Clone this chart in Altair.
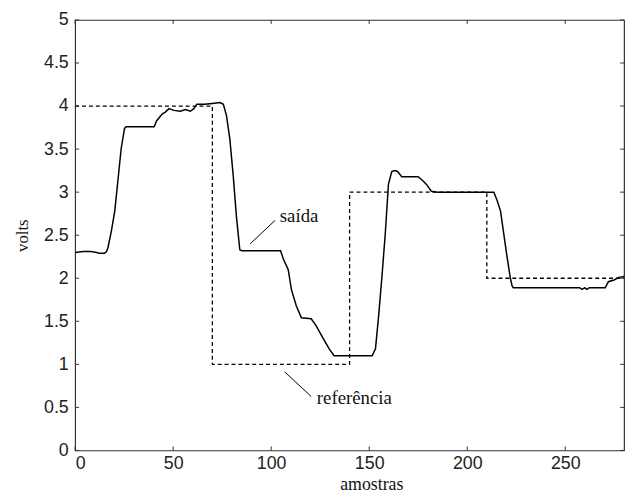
import altair as alt
import pandas as pd

# reference (step) signal
ref_x = [0, 70, 140, 210, 280]
ref_y = [4, 1, 3, 2, 2]

# system output
out_x = [0, 4, 8, 11, 12, 15, 16, 16.8, 18.5, 20.2, 21.8, 23.5, 25.2, 26,
         40.3, 41.6, 44.5, 46, 47.9, 50.4, 53.7, 56.3, 58.8, 60.5, 62.1,
         66, 70, 73.9, 75.6, 77.2, 78.9, 80.6, 82.3, 84, 85,
         104.8, 106.1, 108.7, 110.3, 112.8, 115.4, 120.4, 122.9, 126.3, 129.6, 132.1, 134.7,
         151.5, 153.2, 154.8, 156.5, 158.2, 159.8, 161.5, 163, 164.5, 166.6,
         175, 177.5, 179.2, 181.7, 185,
         213.6, 215.3, 217, 218.6, 220.3, 222, 222.9, 223.5,
         257.3, 258.6, 260, 261, 262.3, 270.4, 272, 274.9, 277.4, 280]
out_y = [2.30, 2.31, 2.31, 2.30, 2.29, 2.29, 2.31, 2.36, 2.55, 2.78, 3.13, 3.51, 3.74, 3.76,
         3.76, 3.83, 3.91, 3.93, 3.97, 3.95, 3.94, 3.96, 3.94, 3.97, 4.02,
         4.02, 4.03, 4.04, 4.02, 3.89, 3.62, 3.20, 2.71, 2.33, 2.32,
         2.32, 2.23, 2.10, 1.87, 1.68, 1.54, 1.53, 1.45, 1.31, 1.18, 1.10, 1.10,
         1.10, 1.18, 1.56, 2.02, 2.52, 3.09, 3.24, 3.25, 3.24, 3.18,
         3.18, 3.13, 3.09, 3.01, 3.00,
         3.00, 2.90, 2.78, 2.52, 2.25, 2.00, 1.91, 1.89,
         1.89, 1.87, 1.89, 1.87, 1.89, 1.89, 1.96, 1.98, 2.01, 2.02]

# tick values
x_ticks = [0, 50, 100, 150, 200, 250]
y_ticks = [0, 0.5, 1, 1.5, 2, 2.5, 3, 3.5, 4, 4.5, 5]

# annotations
ann_labels = ["saída", "referência"]
ann_tx = [104.4, 123.3]
ann_ty = [2.65, 0.54]
ann_x1 = [89.3, 106.9]
ann_y1 = [2.40, 0.913]
ann_x2 = [101.9, 120.4]
ann_y2 = [2.67, 0.627]

W, H = 556, 436
xs = alt.Scale(domain=[0, 280], nice=False, zero=False)
ys = alt.Scale(domain=[0, 5], nice=False, zero=False)

ref_df = pd.DataFrame({"x": ref_x, "y": ref_y})
out_df = pd.DataFrame({"x": out_x, "y": out_y})
xt_df = pd.DataFrame({"t": x_ticks})
yt_df = pd.DataFrame({"t": y_ticks})
ann_df = pd.DataFrame({"label": ann_labels, "tx": ann_tx, "ty": ann_ty,
                       "x1": ann_x1, "y1": ann_y1, "x2": ann_x2, "y2": ann_y2})

tick_font = "Liberation Sans"
serif = "Liberation Serif"

x_axis = alt.Axis(values=x_ticks, grid=False, ticks=False, domain=False,
                  labelFont=tick_font, labelFontSize=18, labelColor="#222",
                  labelPadding=4, title="amostras", titleFont=serif,
                  titleFontSize=18, titleFontWeight="normal", titleColor="#111",
                  titleX=300, titleY=40, titleBaseline="alphabetic", titleAlign="center")
y_axis = alt.Axis(values=y_ticks, grid=False, ticks=False, domain=False,
                  labelFont=tick_font, labelFontSize=18, labelColor="#222",
                  labelPadding=7, labelBaseline="middle", labelAlign="right",
                  labelExpr="datum.value == 0 ? '0' : format(datum.value, '.2~f')",
                  title="volts", titleFont=serif, titleFontSize=17,
                  titleFontWeight="normal", titleColor="#111",
                  titleX=-48, titleY=218, titleAngle=-90, titleBaseline="alphabetic",
                  titleAlign="center")

ref_line = alt.Chart(ref_df).mark_line(
    interpolate="step-after", color="black", strokeWidth=1.3, strokeDash=[4, 3]
).encode(x=alt.X("x:Q", scale=xs, axis=x_axis), y=alt.Y("y:Q", scale=ys, axis=y_axis))

out_line = alt.Chart(out_df).mark_line(color="black", strokeWidth=1.5).encode(
    x=alt.X("x:Q", scale=xs), y=alt.Y("y:Q", scale=ys))

ann_rule = alt.Chart(ann_df).mark_rule(color="black", strokeWidth=1).encode(
    x=alt.X("x1:Q", scale=xs), y=alt.Y("y1:Q", scale=ys),
    x2="x2:Q", y2="y2:Q")

ann_text = alt.Chart(ann_df).mark_text(
    align="left", baseline="alphabetic", font=serif, fontSize=19, color="#111"
).encode(x=alt.X("tx:Q", scale=xs), y=alt.Y("ty:Q", scale=ys), text="label:N")

tick_col = "#333"
TL = 4
xt_bottom = alt.Chart(xt_df).mark_rule(color=tick_col, strokeWidth=1).encode(
    x=alt.X("t:Q", scale=xs), y=alt.value(H), y2=alt.value(H - TL))
xt_top = alt.Chart(xt_df).mark_rule(color=tick_col, strokeWidth=1).encode(
    x=alt.X("t:Q", scale=xs), y=alt.value(0), y2=alt.value(TL))
yt_left = alt.Chart(yt_df).mark_rule(color=tick_col, strokeWidth=1).encode(
    y=alt.Y("t:Q", scale=ys), x=alt.value(0), x2=alt.value(TL))
yt_right = alt.Chart(yt_df).mark_rule(color=tick_col, strokeWidth=1).encode(
    y=alt.Y("t:Q", scale=ys), x=alt.value(W), x2=alt.value(W - TL))

chart = alt.layer(
    ref_line, out_line, ann_rule, ann_text, xt_bottom, xt_top, yt_left, yt_right
).properties(
    width=W, height=H,
    autosize=alt.AutoSizeParams(type="none"),
    padding={"left": 68, "top": 9, "right": 5, "bottom": 40},
    background="white",
).configure_view(stroke="#333", strokeWidth=1.2)

chart.save("out.html", embed_options={"renderer": "svg", "actions": False})
